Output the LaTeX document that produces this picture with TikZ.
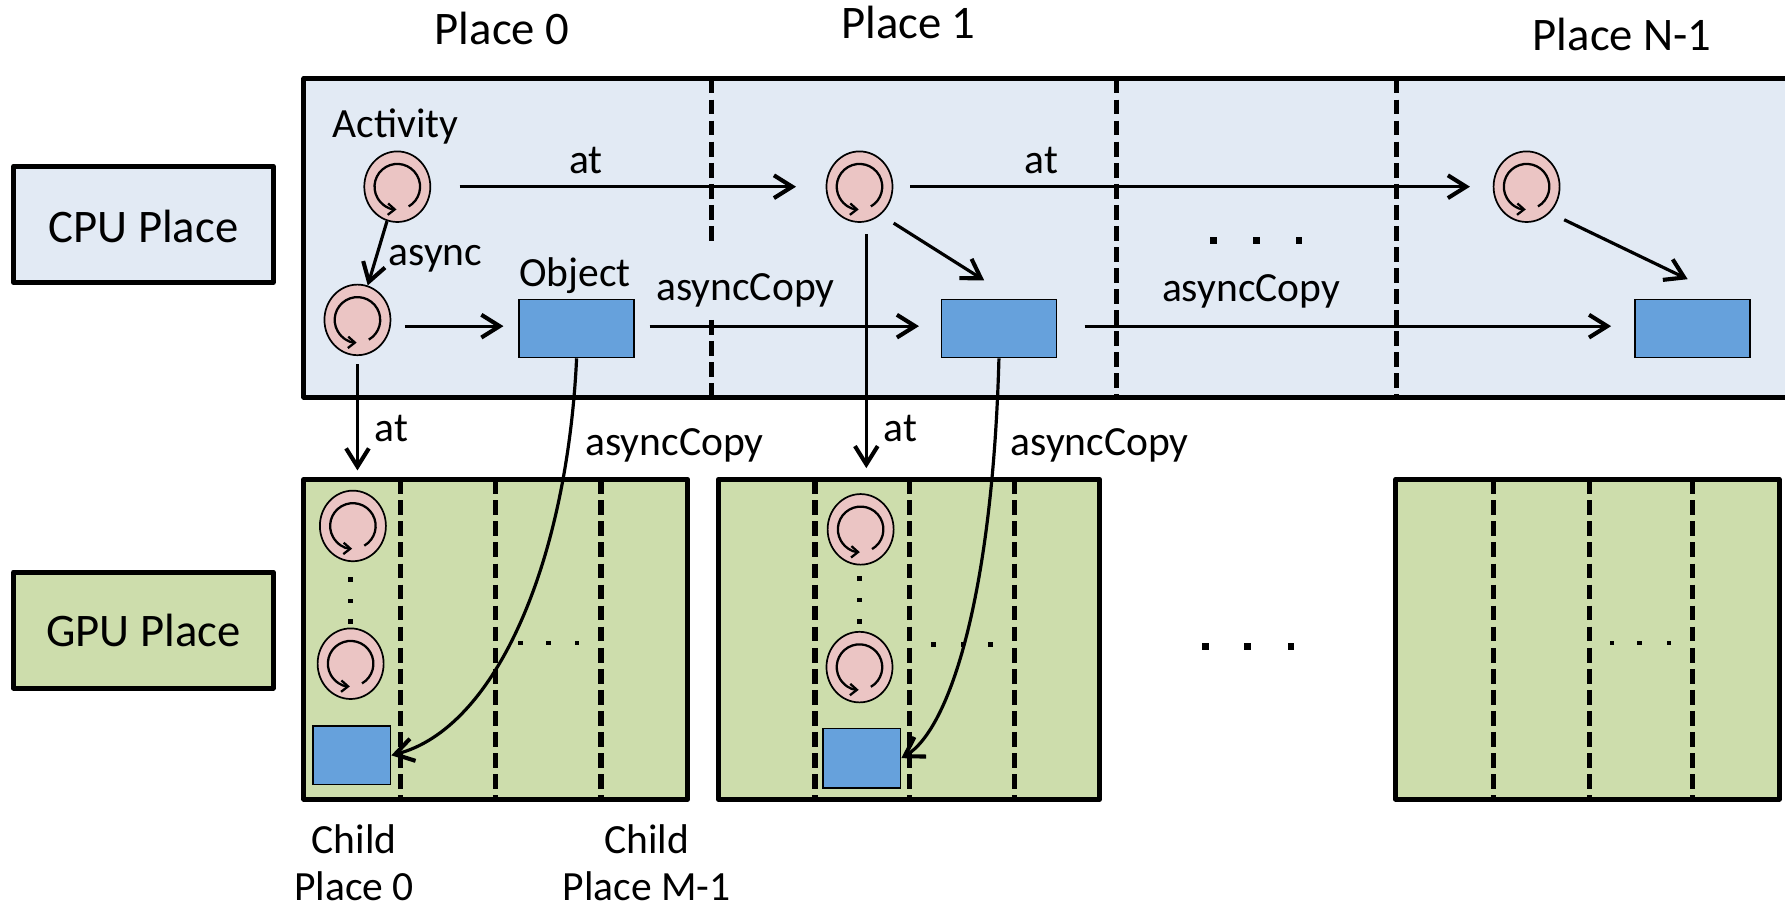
\documentclass[tikz,border=0pt]{standalone}
\usepackage{fontspec}
\setmainfont{Carlito}
\usetikzlibrary{arrows.meta,shapes.geometric,calc}
\definecolor{cpubg}{HTML}{E2EAF4}
\definecolor{gpubg}{HTML}{CDDDAC}
\definecolor{actpink}{HTML}{EBC5C4}
\definecolor{objblue}{HTML}{66A1DC}
\begin{document}
\begin{tikzpicture}[x=1pt,y=-1pt,
  box/.style={draw, line width=4.4pt, line join=round},
  sep/.style={line width=4.6pt, dash pattern=on 13pt off 5.5pt},
  act/.style={ellipse, draw, line width=1.5pt, fill=actpink, minimum width=58pt, minimum height=62pt, inner sep=0pt,
     path picture={\draw[line width=2pt, -{Straight Barb[length=6pt,width=10pt,line width=2pt]}]
        ($(path picture bounding box.center)+(60:20)$) arc[start angle=60,end angle=-268,radius=20];}},
  obj/.style={draw, line width=1.5pt, fill=objblue, inner sep=0pt},
  conn/.style={line width=2.8pt, -{Straight Barb[length=16pt,width=20pt,line width=3.6pt]}},
  lbl/.style={font=\fontsize{36.5}{42}\selectfont, anchor=base, inner sep=0pt},
  ttl/.style={font=\fontsize{41}{48}\selectfont, anchor=base, inner sep=0pt},
  side/.style={box, minimum width=228pt, minimum height=102pt, inner sep=0pt},
  dotb/.style={fill, minimum size=6pt, inner sep=0pt},
  dots/.style={fill, minimum size=4pt, inner sep=0pt}
]
\useasboundingbox (0,0) rectangle (1568,798);
\clip (0,0) rectangle (1568,798);

% titles
\node[ttl] (t0) at (441,39) {Place 0};
\node[ttl] (t1) at (798,34) {Place 1};
\node[ttl] (t2) at (1425,44) {Place N-1};

% side labels
\node[side, fill=cpubg] (cpu) at (126,197) {};
\node[ttl] (cputxt) at (126,213) {CPU Place};
\node[side, fill=gpubg] (gpu) at (126,553.5) {};
\node[ttl] (gputxt) at (126,568) {GPU Place};

% CPU region
\draw[box, fill=cpubg] (267,69) rectangle (1600,349);
\draw[sep] (625,69) -- (625,213);
\draw[sep] (625,281) -- (625,349);
\draw[sep] (981,69) -- (981,349);
\draw[sep] (1227,69) -- (1227,349);

% GPU regions
\draw[box, fill=gpubg] (267,421) rectangle (604,702);
\draw[box, fill=gpubg] (631,421) rectangle (966,702);
\draw[box, fill=gpubg] (1226,421) rectangle (1563,702);
\foreach \xx in {352,435,528,716,799,891,1312,1396,1487}
  \draw[sep] (\xx,421) -- (\xx,702);

% activities
\node[act] (A0) at (349,164) {};
\node[act] (A1) at (755,164) {};
\node[act] (A2) at (1341,164) {};
\node[act] (B) at (314,281) {};
\node[act] (G0a) at (310,462) {};
\node[act] (G0b) at (308,583) {};
\node[act] (G1a) at (756,465) {};
\node[act] (G1b) at (755,586) {};

% objects
\node[obj, minimum width=101pt, minimum height=51pt] (O0) at (506.5,288.5) {};
\node[obj, minimum width=101pt, minimum height=51pt] (O1) at (877.5,288.5) {};
\node[obj, minimum width=101pt, minimum height=51pt] (O2) at (1486.5,288.5) {};
\node[obj, minimum width=68pt, minimum height=51pt] (G0o) at (309,663.5) {};
\node[obj, minimum width=68pt, minimum height=52pt] (G1o) at (757,666) {};

% labels
\node[lbl] (lact) at (347.6,121) {Activity};
\node[lbl] (lobj) at (505,252) {Object};
\node[lbl] (lat1) at (514.8,152) {at};
\node[lbl] (lat2) at (915,152) {at};
\node[lbl] (lasync) at (382.5,233) {async};
\node[lbl] (lac1) at (654.8,264) {asyncCopy};
\node[lbl] (lac2) at (1099,265) {asyncCopy};
\node[lbl] (lat3) at (344,388) {at};
\node[lbl] (lat4) at (791,388) {at};
\node[lbl] (lac3) at (592.5,400) {asyncCopy};
\node[lbl] (lac4) at (966,400) {asyncCopy};
\node[lbl] (c0a) at (311,750) {Child};
\node[lbl] (c0b) at (311,791) {Place 0};
\node[lbl] (c1a) at (568,750) {Child};
\node[lbl] (c1b) at (568,791) {Place M-1};

% connectors
\draw[conn] ($(A0.east)+(25,0)$) -- ($(A1.west)+(-26,0)$);
\draw[conn] ($(A1.east)+(15,0)$) -- ($(A2.west)+(-20,0)$);
\draw[conn] (A0) -- (B);
\draw[conn] ($(B.east |- O0.west)+(12,-2)$) -- ($(O0.west)+(-13,-2)$);
\draw[conn] ($(O0.east)+(13,-2)$) -- ($(O1.west)+(-19,-2)$);
\draw[conn] ($(O1.east)+(24,-2)$) -- ($(O2.west)+(-20,-2)$);
\draw[conn] ($(A1.center)+(30,32)$) -- ($(O1.north)+(-13,-16)$);
\draw[conn] ($(A2.center)+(33,29)$) -- ($(O2.north)+(-4,-17)$);
\draw[conn] ($(B.south)+(0,7)$) -- ($(B.south |- G0a.north)+(0,-17)$);
\draw[conn] ($(A1.south)+(6,10)$) -- ($(A1.south |- G1a.north)+(6,-22)$);
\draw[conn] (O0.south) .. controls (498,495) and (435,640) .. (G0o.east);
\draw[conn] (O1.south) .. controls (872,520) and (835,640) .. (G1o.east);

% ellipsis dots
\foreach \xx in {1066,1104,1141} \node[dotb] at (\xx,211) {};
\foreach \xx in {1059,1096,1134} \node[dotb] at (\xx,568) {};
\foreach \xx in {457,482,507} \node[dots] at (\xx,565) {};
\foreach \yy in {509,528,546} \node[dots] at (308,\yy) {};
\foreach \xx in {820,846,870} \node[dots] at (\xx,566) {};
\foreach \yy in {508,527,546} \node[dots] at (755,\yy) {};
\foreach \xx in {1416,1440,1466} \node[dots] at (\xx,565) {};
\end{tikzpicture}
\end{document}
